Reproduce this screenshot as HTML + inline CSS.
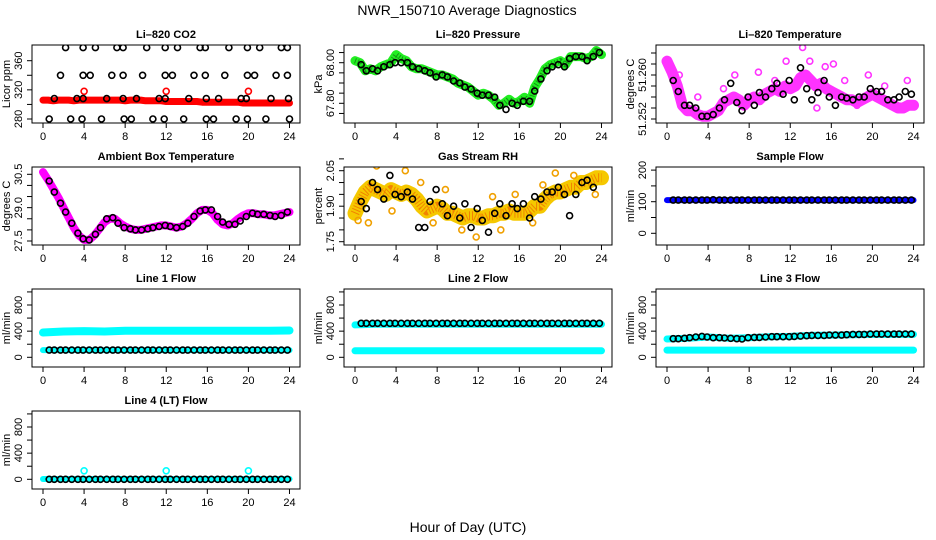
<!DOCTYPE html>
<html><head><meta charset="utf-8"><style>
html,body{margin:0;padding:0;background:#fff;}
svg{display:block;font-family:"Liberation Sans",sans-serif;}
</style></head><body>
<svg id="chart" width="936" height="540" viewBox="0 0 936 540">
<text x="467" y="15" text-anchor="middle" font-size="14">NWR_150710  Average Diagnostics</text>
<text x="468" y="532" text-anchor="middle" font-size="14">Hour of Day (UTC)</text>
</svg>
<script>
// ---------- data ----------
const xTicks = [0,4,8,12,16,20,24];
const bandHours = [0,0.5,1,1.5,2,2.5,3,3.5,4,4.5,5,5.5,6,6.5,7,7.5,8,8.5,9,9.5,10,10.5,11,11.5,12,12.5,13,13.5,14,14.5,15,15.5,16,16.5,17,17.5,18,18.5,19,19.5,20,20.5,21,21.5,22,22.5,23,23.5,24];
const blackHours = [0.6,1.1,1.7,2.2,2.8,3.4,3.9,4.5,5.1,5.6,6.2,6.8,7.3,7.9,8.5,9.0,9.6,10.2,10.7,11.3,11.9,12.4,13.0,13.6,14.1,14.7,15.3,15.8,16.4,17.0,17.5,18.1,18.7,19.2,19.8,20.4,20.9,21.5,22.1,22.6,23.2,23.8];
const flowHours = [0,2,4,6,8,10,12,14,16,18,20,22,24];

// CO2
const co2Band = [306,306,305,306,306,306,305,306,306,306,306,306,306,306,306,306,305,306,306,306,305,305,305,305,304,304,304,304,304,304,304,303,303,303,303,303,303,303,303,302,302,302,302,302,302,302,302,302,302];
const co2RedOutHours = [4,12,20];
const co2RedOut = [318,318,318];
const co2BlackHours = [2.2,3.9,5.1,7.2,7.8,10.1,11.9,13.1,15.3,15.8,18.1,19.9,21.1,23.2,23.8, 1.7,3.9,4.6,6.7,7.8,9.7,11.9,12.6,14.7,15.8,17.7,19.9,20.6,22.7,23.8, 1.1,3.3,3.9,6.2,7.8,9.1,11.3,11.9,14.2,15.9,17.1,19.3,19.8,22.2,23.9, 0.6,2.7,3.8,5.7,7.9,8.6,10.7,11.8,13.7,15.9,16.6,18.8,19.9,21.7,24];
const co2Black = [378,378,378,378,378,378,378,378,378,378,378,378,378,378,378, 340,340,340,340,340,340,340,340,340,340,340,340,340,340,340, 308,308,308,308,308,308,308,308,308,308,308,308,308,308,308, 280,280,280,280,280,280,280,280,280,280,280,280,280,280,280];

// Pressure
const presBand = [68.01,68.0,67.96,67.97,67.96,67.98,67.99,68.0,68.04,68.02,68.01,67.98,67.97,67.97,67.96,67.95,67.94,67.94,67.93,67.92,67.9,67.89,67.88,67.86,67.84,67.85,67.84,67.82,67.79,67.8,67.82,67.8,67.81,67.83,67.8,67.88,67.92,67.97,67.99,68.0,68.01,67.99,68.03,68.03,68.03,68.02,68.03,68.06,68.04];
const presBlack = [67.99,67.96,67.97,67.96,67.98,67.99,68.0,68.0,68.0,67.98,67.97,67.96,67.95,67.93,67.94,67.93,67.91,67.9,67.88,67.87,67.85,67.84,67.84,67.83,67.79,67.77,67.8,67.79,67.81,67.81,67.86,67.92,67.96,67.98,67.99,67.98,68.02,68.03,68.03,68.01,68.03,68.05];

// Li-820 temperature
const tempBand = [51.2625,51.2605,51.258,51.2545,51.2535,51.2535,51.2528,51.2525,51.2525,51.253,51.2535,51.255,51.2555,51.256,51.2555,51.2545,51.2555,51.256,51.2555,51.2565,51.257,51.2575,51.257,51.258,51.2575,51.258,51.2595,51.26,51.259,51.258,51.2585,51.2575,51.257,51.2565,51.256,51.2555,51.2555,51.255,51.2555,51.256,51.2565,51.256,51.2555,51.255,51.2545,51.254,51.254,51.2545,51.2545];
const tempBlack = [51.2590,51.2570,51.2545,51.2545,51.2540,51.2525,51.2525,51.2528,51.2540,51.2555,51.2585,51.2550,51.2535,51.2560,51.2545,51.2568,51.2560,51.2575,51.2585,51.2565,51.2590,51.2555,51.2613,51.2575,51.2555,51.2568,51.2590,51.2560,51.2545,51.2560,51.2558,51.2555,51.2560,51.2560,51.2575,51.2570,51.2570,51.2555,51.2555,51.2560,51.2570,51.2565];
const tempOutHours = [1.2,3.0,5.5,6.6,8.9,10.5,11.6,13.2,13.9,14.6,15.4,16.2,17.3,18.5,19.6,21.2,22.4,23.4];
const tempOut = [51.2600,51.2560,51.2575,51.2600,51.2605,51.2590,51.2625,51.2650,51.2625,51.2540,51.2615,51.2620,51.2590,51.2545,51.2600,51.2580,51.2545,51.2590];

// Ambient box temperature
const ambBand = [30.6,30.25,29.85,29.45,29.0,28.55,28.1,27.75,27.55,27.55,27.75,28.05,28.35,28.5,28.5,28.3,28.15,28.05,28.0,28.0,28.05,28.1,28.15,28.2,28.2,28.15,28.1,28.15,28.3,28.5,28.75,28.9,28.9,28.75,28.45,28.25,28.2,28.3,28.5,28.65,28.75,28.75,28.7,28.7,28.65,28.65,28.7,28.75,28.8];
const ambBlack = [30.2,29.7,29.2,28.8,28.3,27.85,27.6,27.55,27.8,28.1,28.5,28.55,28.3,28.1,28.05,28.0,28.0,28.05,28.1,28.15,28.2,28.15,28.1,28.15,28.3,28.6,28.85,28.9,28.9,28.6,28.35,28.25,28.25,28.4,28.6,28.75,28.7,28.7,28.65,28.6,28.65,28.8];

// Gas stream RH
const rhBand = [1.87,1.92,1.96,1.98,1.97,1.96,1.95,1.97,1.96,1.95,1.96,1.95,1.93,1.9,1.88,1.89,1.9,1.89,1.87,1.87,1.86,1.85,1.86,1.86,1.85,1.85,1.86,1.86,1.87,1.87,1.88,1.87,1.87,1.87,1.88,1.9,1.9,1.93,1.95,1.96,1.96,1.97,1.98,1.98,2.0,2.0,2.01,2.02,2.02];
const rhBlack = [1.92,1.89,2.0,1.97,1.93,2.03,1.95,1.94,1.96,1.93,1.81,1.81,1.92,1.97,1.91,1.86,1.9,1.85,1.91,1.81,1.89,1.84,1.79,1.87,1.91,1.86,1.91,1.89,1.91,1.85,1.94,1.93,1.96,1.96,1.98,1.95,1.86,1.95,2.0,2.01,1.98,2.1];
const rhOutHours = [0.3,1.3,2.1,3.6,4.9,6.4,7.6,8.8,10.4,11.8,13.4,14.2,15.6,17.3,18.3,19.5,21.3,22.8,23.4];
const rhOut = [1.84,1.83,2.07,1.88,2.05,2.0,1.83,1.97,1.80,1.77,1.94,1.80,1.95,1.83,1.99,2.04,2.03,2.08,1.95];

// Sample flow
const sfBand = [105,105,105,105,105,105,105,105,105,105,105,105,105];
const sfBlack = [105,105,105,105,105,105,105,106,105,105,105,105,105,105,105,105,105,105,105,105,105,105,105,105,105,105,105,105,105,105,105,105,105,105,105,105,105,105,105,105,105,105];

// Line flows
const l1High = [380,395,400,395,405,405,405,405,405,405,405,405,410];
const l1Low = [110,110,110,110,110,110,110,110,110,110,110,110,110];
const l1Black = [110,110,110,110,110,110,110,110,110,110,110,110,110,110,110,110,110,110,110,110,110,110,110,110,110,110,110,110,110,110,110,110,110,110,110,110,110,110,110,110,110,110];
const l2High = [495,505,505,505,505,505,505,505,505,505,505,505,505];
const l2Low = [100,100,100,100,100,100,100,100,100,100,100,100,100];
const l2Black = [520,520,520,520,520,520,520,520,520,520,520,520,520,520,520,520,520,520,520,520,520,520,520,520,520,520,520,520,520,520,520,520,520,520,520,520,520,520,520,520,520,520];
const l3High = [280,290,310,290,300,315,320,335,340,345,350,350,350];
const l3Low = [110,110,110,110,110,110,110,110,110,110,110,110,110];
const l3Black = [285,285,290,300,310,320,310,300,300,295,290,285,280,300,305,305,310,315,315,315,315,320,325,330,335,335,335,340,340,340,345,350,350,350,355,355,355,355,355,355,355,355];
const l4Low = [5,5,5,5,5,5,5,5,5,5,5,5,5];
const l4OutHours = [4,12,20];
const l4Out = [130,130,130];
const l4Black = [0,0,0,0,0,0,0,0,0,0,0,0,0,0,0,0,0,0,0,0,0,0,0,0,0,0,0,0,0,0,0,0,0,0,0,0,0,0,0,0,0,0];

const flowTicks = [0,200,400,600,800,1000];
const flowLabels = [0,400,800];

// ---------- drawing ----------
const NS = 'http://www.w3.org/2000/svg';
const svg = document.getElementById('chart');
function mk(tag, attrs, parent){
  const e = document.createElementNS(NS, tag);
  for (const k in attrs) e.setAttribute(k, attrs[k]);
  (parent||svg).appendChild(e);
  return e;
}

function panel(p){
  const c = p.col, r = p.row;
  const x0 = 43 + 312*c;
  const pxh = 10.27;
  const top = 45 + 122*r, h = 78;
  const left = x0 - 11, w = 268;
  const xs = t => x0 + t*pxh;
  const ys = v => p.y1 + (v - p.v1) * (p.y2 - p.y1) / (p.v2 - p.v1) + 122*r;
  const g = mk('g', {});
  
  
  const clipId = 'clip' + p.name;
  const cp = mk('clipPath', {id: clipId}, g);
  mk('rect', {x:left, y:top, width:w, height:h}, cp);
  const plot = mk('g', {'clip-path':'url(#'+clipId+')'}, g);
  
  
  (p.bands||[]).forEach((b, bi) => {
    const pts = b.hours.map((t,i) => xs(t).toFixed(1)+','+ys(b.vals[i]).toFixed(1)).join(' ');
    const pl = mk('polyline', {points:pts, fill:'none', stroke:b.color, 'stroke-width':b.width, 'stroke-linejoin':'round', 'stroke-linecap':'round'}, plot);
    
    
    if (b.dots) {
      const pl2 = mk('polyline', {points:pts, fill:'none', stroke:b.dots, 'stroke-width':b.width*0.6, 'stroke-dasharray':'1 2', 'stroke-linejoin':'round', opacity:0.6}, plot);
      
      
    }
  });
  (p.points||[]).forEach((s, si) => {
    s.hours.forEach((t,i) => {
      const ci = mk('circle', {cx:xs(t).toFixed(1), cy:ys(s.vals[i]).toFixed(1), r:s.r||3, fill:'none', stroke:s.color, 'stroke-width':s.sw||1.6}, plot);
      
      
    });
  });
  const box = mk('rect', {x:left, y:top, width:w, height:h, fill:'none', stroke:'#000', 'stroke-width':1}, g);
  
  
  xTicks.forEach(t => {
    mk('line', {x1:xs(t), x2:xs(t), y1:top+h, y2:top+h+5, stroke:'#000'}, g);
    const tx = mk('text', {x:xs(t), y:top+h+17, 'text-anchor':'middle', 'font-size':11}, g);
    tx.textContent = t;
    
    
  });
  p.yTicks.forEach(v => {
    const y = ys(v);
    mk('line', {x1:left-5, x2:left, y1:y, y2:y, stroke:'#000'}, g);
  });
  p.yLabels.forEach(v => {
    const y = ys(v);
    const tx = mk('text', {x:0, y:0, 'text-anchor':'middle', 'font-size':11, transform:'translate('+(left-10)+','+y.toFixed(1)+') rotate(-90)'}, g);
    tx.textContent = p.fmt ? p.fmt(v) : v;
    
    
  });
  const yt = mk('text', {x:0, y:0, 'text-anchor':'middle', 'font-size':11, transform:'translate('+(left-22)+','+(top+h/2)+') rotate(-90)'}, g);
  yt.textContent = p.ylab;
  
  
  const ti = mk('text', {x:left+w/2, y:top-7, 'text-anchor':'middle', 'font-size':11, 'font-weight':'bold'}, g);
  ti.textContent = p.title;
  
  
}

const flowY = {v1:0, y1:357.3, v2:800, y2:305};

panel({name:'co2', col:0, row:0, title:'Li\u2013820 CO2', ylab:'Licor ppm', v1:280, y1:119, v2:360, y2:60.7,
  yTicks:[280,300,320,340,360], yLabels:[280,320,360],
  bands:[{hours:bandHours, vals:co2Band, color:'#ff0000', width:7}],
  points:[{hours:co2RedOutHours, vals:co2RedOut, color:'#ff0000'},{hours:co2BlackHours, vals:co2Black, color:'#000'}]});

panel({name:'pressure', col:1, row:0, title:'Li\u2013820 Pressure', ylab:'kPa', v1:68.0, y1:62.7, v2:67.8, y2:103.3,
  yTicks:[67.75,67.8,67.85,67.9,67.95,68.0,68.05], yLabels:[67.8,68.0], fmt:v=>v.toFixed(2),
  bands:[{hours:bandHours, vals:presBand, color:'#22ee22', width:9, dots:'#0a5a0a'}],
  points:[{hours:blackHours, vals:presBlack, color:'#000'}]});

panel({name:'li820-temp', col:2, row:0, title:'Li\u2013820 Temperature', ylab:'degrees C', v1:51.252, y1:119, v2:51.260, y2:75,
  yTicks:[51.252,51.254,51.256,51.258,51.260,51.262,51.264], yLabels:[51.252,51.260], fmt:v=>v.toFixed(3),
  bands:[{hours:bandHours, vals:tempBand, color:'#ff33ff', width:11}],
  points:[{hours:tempOutHours, vals:tempOut, color:'#ff33ff'},{hours:blackHours, vals:tempBlack, color:'#000'}]});

panel({name:'ambient-temp', col:0, row:1, title:'Ambient Box Temperature', ylab:'degrees C', v1:27.5, y1:241-122, v2:30.5, y2:174.3-122,
  yTicks:[27.5,28,28.5,29,29.5,30,30.5], yLabels:[27.5,29.0,30.5], fmt:v=>v.toFixed(1),
  bands:[{hours:bandHours, vals:ambBand, color:'#ff00ff', width:8}],
  points:[{hours:blackHours, vals:ambBlack, color:'#000'}]});

panel({name:'gas-rh', col:1, row:1, title:'Gas Stream RH', ylab:'percent', v1:1.75, y1:241.7-122, v2:2.05, y2:170.7-122,
  yTicks:[1.75,1.8,1.85,1.9,1.95,2.0,2.05,2.1], yLabels:[1.75,1.90,2.05], fmt:v=>v.toFixed(2),
  bands:[{hours:bandHours, vals:rhBand, color:'#f5c800', width:15, dots:'#ee5500'}],
  points:[{hours:rhOutHours, vals:rhOut, color:'#f0a000'},{hours:blackHours, vals:rhBlack, color:'#000'}]});

panel({name:'sample-flow', col:2, row:1, title:'Sample Flow', ylab:'ml/min', v1:0, y1:233.3-122, v2:100, y2:201.7-122,
  yTicks:[0,50,100,150,200], yLabels:[0,100,200],
  bands:[{hours:flowHours, vals:sfBand, color:'#0000ff', width:6}],
  points:[{hours:blackHours, vals:sfBlack, color:'#000'}]});

panel({name:'line1-flow', col:0, row:2, title:'Line 1 Flow', ylab:'ml/min', v1:0, y1:flowY.y1-244, v2:800, y2:flowY.y2-244,
  yTicks:flowTicks, yLabels:flowLabels,
  bands:[{hours:flowHours, vals:l1High, color:'#00ffff', width:8},{hours:flowHours, vals:l1Low, color:'#00ffff', width:6}],
  points:[{hours:blackHours, vals:l1Black, color:'#000'}]});

panel({name:'line2-flow', col:1, row:2, title:'Line 2 Flow', ylab:'ml/min', v1:0, y1:flowY.y1-244, v2:800, y2:flowY.y2-244,
  yTicks:flowTicks, yLabels:flowLabels,
  bands:[{hours:flowHours, vals:l2High, color:'#00ffff', width:7},{hours:flowHours, vals:l2Low, color:'#00ffff', width:7}],
  points:[{hours:blackHours, vals:l2Black, color:'#000'}]});

panel({name:'line3-flow', col:2, row:2, title:'Line 3 Flow', ylab:'ml/min', v1:0, y1:flowY.y1-244, v2:800, y2:flowY.y2-244,
  yTicks:flowTicks, yLabels:flowLabels,
  bands:[{hours:flowHours, vals:l3High, color:'#00ffff', width:7},{hours:flowHours, vals:l3Low, color:'#00ffff', width:7}],
  points:[{hours:blackHours, vals:l3Black, color:'#000'}]});

panel({name:'line4-flow', col:0, row:3, title:'Line 4 (LT) Flow', ylab:'ml/min', v1:0, y1:flowY.y1-244, v2:800, y2:flowY.y2-244,
  yTicks:flowTicks, yLabels:flowLabels,
  bands:[{hours:flowHours, vals:l4Low, color:'#00ffff', width:6}],
  points:[{hours:l4OutHours, vals:l4Out, color:'#00ffff'},{hours:blackHours, vals:l4Black, color:'#000'}]});
</script>
</body></html>
